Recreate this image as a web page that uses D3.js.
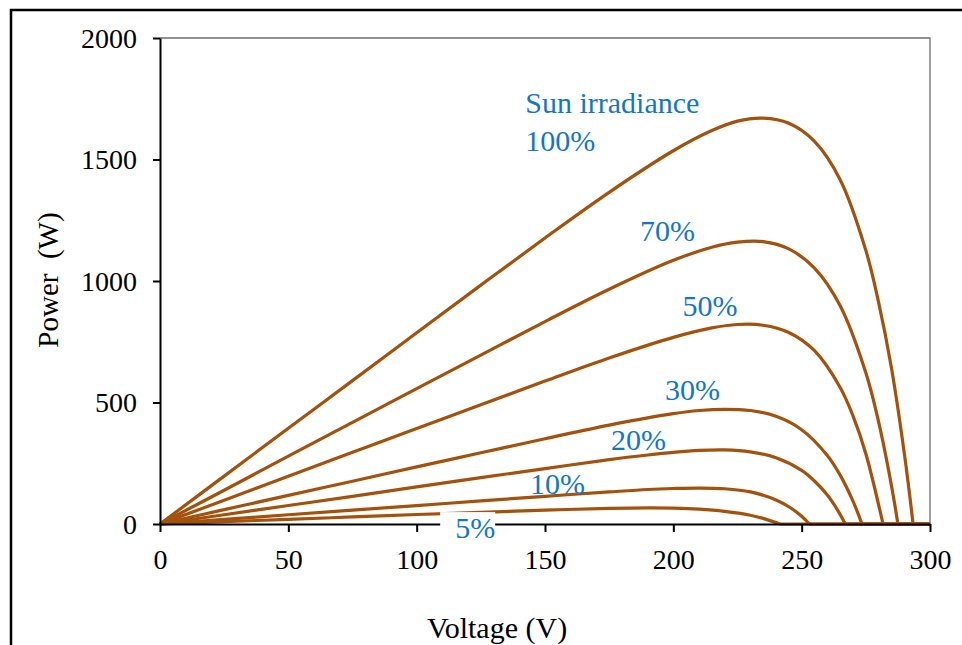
<!DOCTYPE html>
<html>
<head>
<meta charset="utf-8">
<script src="https://cdn.jsdelivr.net/npm/d3@7"></script>
<style>
  html, body { margin: 0; padding: 0; background: #fff; }
  svg { display: block; }
  text { font-family: "Liberation Serif", "Times New Roman", serif; }
</style>
</head>
<body>
<svg id="chart" width="962" height="645"></svg>
<script>
// P-V characteristics of the PV array at several irradiance levels
const irradianceLevels = ["100%", "70%", "50%", "30%", "20%", "10%", "5%"];

const voltage100 = [0, 25, 50, 75, 100, 125, 150, 175, 200, 215, 225, 235, 245, 255, 265, 275, 280, 285, 290, 293.4, 300];
const power100   = [0, 197, 394, 590, 787, 983, 1177, 1365, 1536, 1619, 1658, 1670, 1649, 1575, 1417, 1126, 911, 641, 290, 0, 0];

const voltage70 = [0, 25, 50, 75, 100, 125, 150, 175, 200, 215, 225, 235, 245, 255, 265, 275, 280, 285, 287.5, 300];
const power70   = [0, 139, 279, 418, 557, 695, 833, 966, 1085, 1139, 1160, 1162, 1132, 1053, 898, 622, 419, 157, 0, 0];

const voltage50 = [0, 25, 50, 75, 100, 125, 150, 175, 200, 215, 225, 235, 245, 255, 265, 270, 275, 281.7, 300];
const power50   = [0, 98, 197, 295, 393, 491, 588, 683, 768, 807, 821, 818, 788, 713, 562, 445, 289, 0, 0];

const voltage30 = [0, 25, 50, 75, 100, 125, 150, 175, 200, 210, 220, 230, 240, 250, 260, 265, 270, 273.5, 300];
const power30   = [0, 59, 118, 176, 235, 293, 351, 407, 454, 467, 472, 467, 443, 388, 282, 201, 94, 0, 0];

const voltage20 = [0, 25, 50, 75, 100, 125, 150, 175, 190, 200, 210, 220, 230, 240, 250, 255, 260, 264, 267, 300];
const power20   = [0, 38, 76, 114, 153, 191, 228, 265, 284, 295, 303, 305, 297, 273, 221, 177, 119, 57, 0, 0];

const voltage10 = [0, 25, 50, 75, 100, 125, 150, 175, 190, 200, 210, 220, 230, 240, 245, 250, 253, 300];
const power10   = [0, 19, 38, 57, 76, 95, 114, 132, 142, 146, 148, 145, 132, 99, 71, 32, 0, 0];

const voltage5 = [0, 25, 50, 75, 100, 125, 150, 175, 190, 200, 210, 220, 230, 235, 241.5, 300];
const power5   = [0, 10, 19, 29, 39, 48, 57, 64, 66, 65, 61, 52, 36, 23, 0, 0];

const xTickValues = [0, 50, 100, 150, 200, 250, 300];
const yTickValues = [0, 500, 1000, 1500, 2000];

const seriesVoltages = [voltage100, voltage70, voltage50, voltage30, voltage20, voltage10, voltage5];
const seriesPowers   = [power100, power70, power50, power30, power20, power10, power5];

// Label anchor points in data units (voltage, power) for each curve label
const labelVoltage = [142.3, 187, 203.6, 196.8, 175.7, 144.2, 115];
const labelPower   = [1535, 1165, 856, 510, 305, 123, -58];

const svg = d3.select("#chart");
const margin = { left: 160, right: 32, top: 38, bottom: 121 };
const W = 962, H = 645;

const x = d3.scaleLinear().domain([0, 300]).range([margin.left, W - margin.right]);
const y = d3.scaleLinear().domain([0, 2000]).range([H - margin.bottom, margin.top]);

const lineColor = "#a3520d";
const labelColor = "#1576c6";
const serif = '"Liberation Serif", "Times New Roman", serif';

// Outer frame
svg.append("rect")
  .attr("x", 11).attr("y", 10)
  .attr("width", 980).attr("height", 700)
  .attr("fill", "none").attr("stroke", "#000").attr("stroke-width", 2.5);

// Plot area border (top and right edges)
svg.append("path")
  .attr("d", `M${x(0)},${y(2000)}H${x(300)}V${y(0)}`)
  .attr("fill", "none").attr("stroke", "#6e6e6e").attr("stroke-width", 1.3);

// Curves: smooth spline up to the open-circuit point, then a straight zero tail
const smooth = d3.line().x(d => x(d[0])).y(d => y(d[1])).curve(d3.curveCatmullRom.alpha(0.5));
const straight = d3.line().x(d => x(d[0])).y(d => y(d[1]));

const curves = svg.append("g")
  .attr("fill", "none")
  .attr("stroke", lineColor)
  .attr("stroke-width", 3.2)
  .attr("stroke-linejoin", "round");

seriesVoltages.forEach((vs, i) => {
  const pts = vs.map((v, j) => [v, seriesPowers[i][j]]);
  // index of the open-circuit point (first zero after the start)
  const oc = pts.findIndex((p, j) => j > 0 && p[1] === 0);
  curves.append("path").attr("d", smooth(pts.slice(0, oc + 1)));
  curves.append("path").attr("d", straight(pts.slice(oc)));
});

// Axes
const xAxis = svg.append("g")
  .attr("transform", `translate(0,${y(0)})`)
  .call(d3.axisBottom(x).tickValues(xTickValues).tickFormat(d3.format("d"))
    .tickSize(8).tickSizeOuter(0).tickPadding(17));
const yAxis = svg.append("g")
  .attr("transform", `translate(${x(0)},0)`)
  .call(d3.axisLeft(y).tickValues(yTickValues).tickFormat(d3.format("d"))
    .tickSize(7).tickSizeOuter(0).tickPadding(16));

[xAxis, yAxis].forEach(g => {
  g.select(".domain").attr("stroke", "#000").attr("stroke-width", 2);
  g.selectAll(".tick line").attr("stroke", "#000").attr("stroke-width", 2);
  g.selectAll(".tick text")
    .attr("fill", "#000")
    .style("font-family", serif)
    .style("font-size", "28px");
});
yAxis.selectAll(".tick text").attr("dy", "0.33em");

// Axis titles
svg.append("text")
  .attr("x", 497).attr("y", 638)
  .attr("text-anchor", "middle")
  .style("font-size", "30px")
  .text("Voltage (V)");

svg.append("text")
  .attr("transform", `translate(58,280) rotate(-90)`)
  .attr("text-anchor", "middle")
  .style("font-size", "29px")
  .style("white-space", "pre")
  .text("Power  (W)");

// Curve labels
svg.append("text")
  .attr("x", x(142.3)).attr("y", y(1691))
  .attr("fill", labelColor)
  .style("font-size", "30px")
  .text("Sun irradiance");

const labels = svg.append("g")
  .style("font-size", "30px")
  .attr("fill", labelColor);

irradianceLevels.forEach((lab, i) => {
  const tx = x(labelVoltage[i]);
  const ty = y(labelPower[i]);
  if (lab === "5%") {
    labels.append("rect")
      .attr("x", tx - 15).attr("y", ty - 26)
      .attr("width", 55).attr("height", 34)
      .attr("fill", "#fff");
  }
  labels.append("text")
    .attr("x", tx).attr("y", ty)
    .text(lab);
});
</script>
</body>
</html>
